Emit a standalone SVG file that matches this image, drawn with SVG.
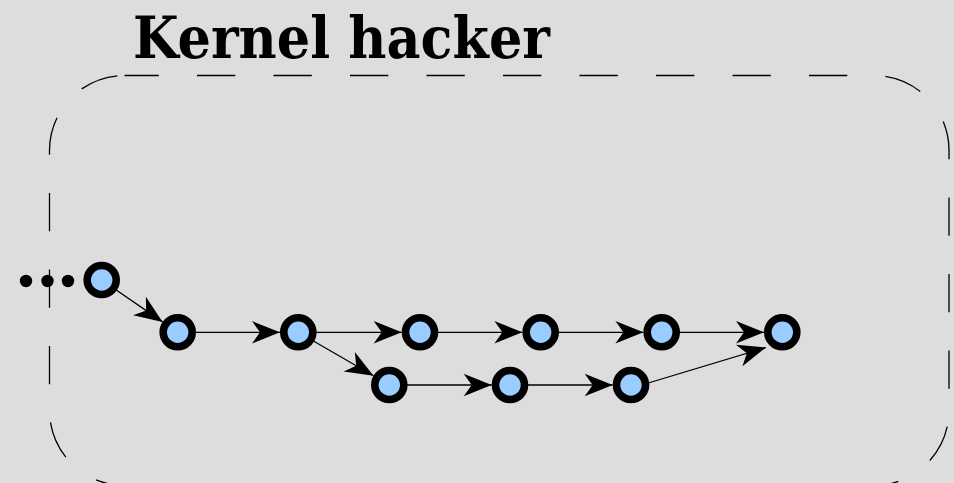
<svg xmlns="http://www.w3.org/2000/svg" width="954" height="483" viewBox="0 0 954 483">
<defs>
<style>
.node{fill:#99ccff;stroke:#000;stroke-width:7.6}
.edge{fill:none;stroke:#000;stroke-width:1.3;marker-end:url(#arr)}
.dot{fill:#000}
.frame{fill:none;stroke:#000;stroke-width:1.3;stroke-dasharray:38.3 38.2;stroke-dashoffset:4}
.title{font-family:"DejaVu Serif","Liberation Serif",serif;font-weight:bold;font-size:58px;fill:#000}
</style>
<marker id="arr" markerUnits="userSpaceOnUse" markerWidth="30" markerHeight="24" viewBox="0 0 28 24" refX="28" refY="12" orient="auto" overflow="visible">
<path d="M28,12 L0,0.8 L8,12 L0,23.2 Z" fill="#000"/>
</marker>
</defs>
<rect width="954" height="483" fill="#dddddd"/>
<rect class="frame" x="49.5" y="75.5" width="899.5" height="410" rx="75" ry="75"/>
<text class="title" x="133" y="58" textLength="417" lengthAdjust="spacingAndGlyphs">Kernel hacker</text>
<g id="ellipsis">
<circle class="dot" cx="26" cy="281" r="6.2"/>
<circle class="dot" cx="47.5" cy="281" r="6.2"/>
<circle class="dot" cx="68" cy="281" r="6.2"/>
</g>
<g id="connectors">
<line class="edge" x1="101.7" y1="280" x2="162.6" y2="321.9"/>
<line class="edge" x1="177.7" y1="332.3" x2="280" y2="332.3"/>
<line class="edge" x1="298.3" y1="332.3" x2="401.7" y2="332.3"/>
<line class="edge" x1="420" y1="332.3" x2="522.4" y2="332.3"/>
<line class="edge" x1="540.7" y1="332.3" x2="643.4" y2="332.3"/>
<line class="edge" x1="661.7" y1="332.3" x2="764" y2="332.3"/>
<line class="edge" x1="298.3" y1="332.3" x2="373.5" y2="375.8"/>
<line class="edge" x1="389.3" y1="385" x2="491.7" y2="385"/>
<line class="edge" x1="510" y1="385" x2="612.7" y2="385"/>
<line class="edge" x1="645" y1="384" x2="766" y2="347.5"/>
</g>
<g id="n1"><circle class="node" cx="101.7" cy="280" r="14.5"/></g>
<g id="n2"><circle class="node" cx="177.7" cy="332.3" r="14.5"/></g>
<g id="n3"><circle class="node" cx="298.3" cy="332.3" r="14.5"/></g>
<g id="n4"><circle class="node" cx="420" cy="332.3" r="14.5"/></g>
<g id="n5"><circle class="node" cx="540.7" cy="332.3" r="14.5"/></g>
<g id="n6"><circle class="node" cx="661.7" cy="332.3" r="14.5"/></g>
<g id="n7"><circle class="node" cx="782.3" cy="332.3" r="14.5"/></g>
<g id="b1"><circle class="node" cx="389.3" cy="385" r="14.5"/></g>
<g id="b2"><circle class="node" cx="510" cy="385" r="14.5"/></g>
<g id="b3"><circle class="node" cx="631" cy="385" r="14.5"/></g>
</svg>
